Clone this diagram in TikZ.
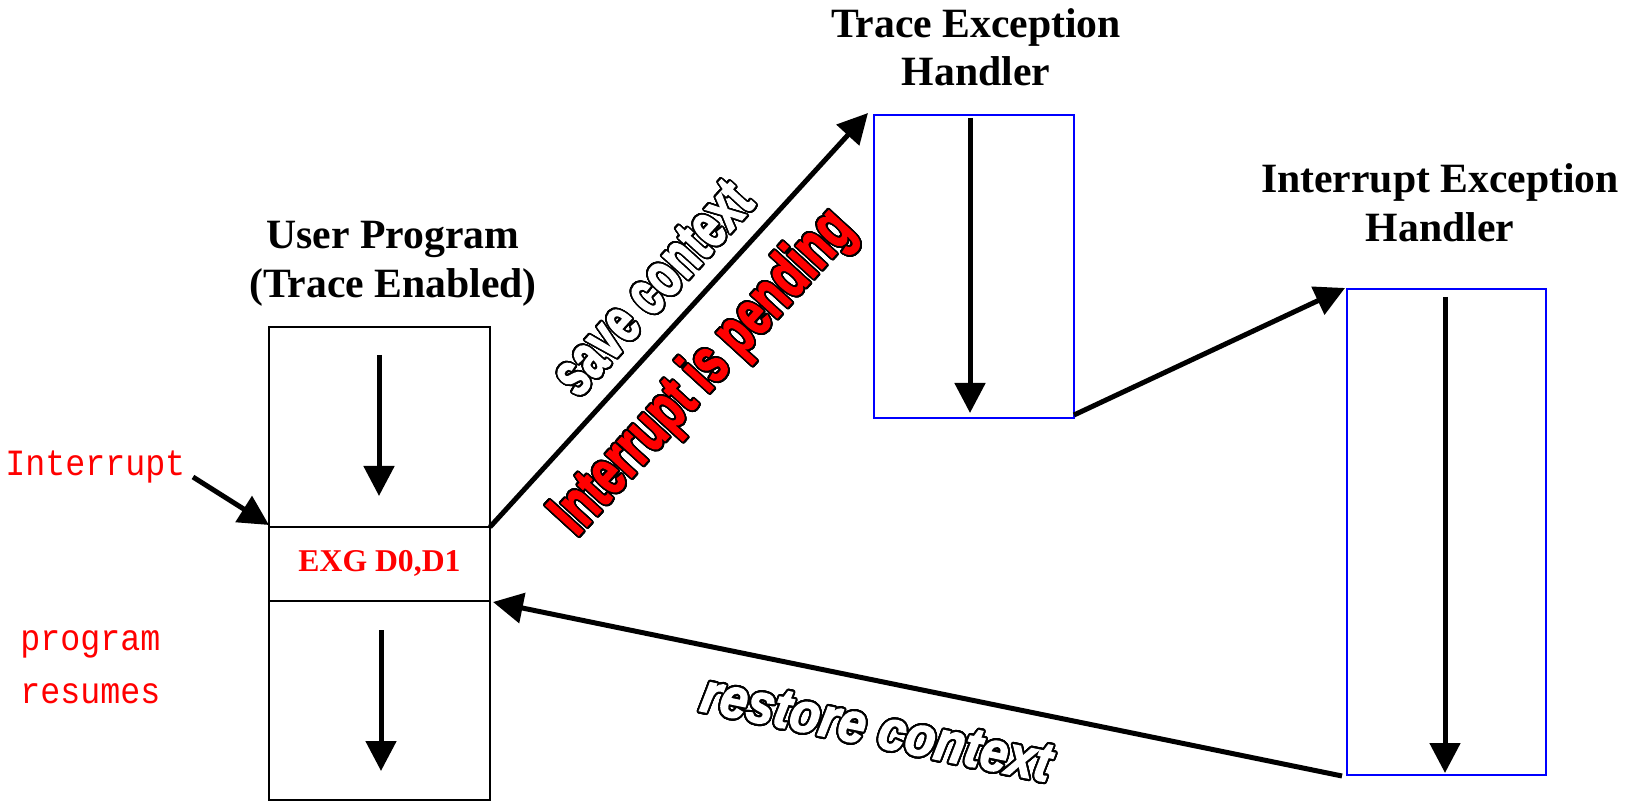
\documentclass[tikz,border=0pt]{standalone}
\usepackage{fontspec}
\setmainfont{Liberation Serif}
\newfontfamily\monofont{Liberation Mono}
\newfontfamily\heavyfont{Liberation Sans Bold}[FakeBold=2.5]
\newfontfamily\heavyitalfont{Liberation Sans Bold Italic}[FakeBold=2.5]
\usepackage[copies]{contour}
\contourlength{1.1pt}
\contournumber{32}
\usetikzlibrary{arrows.meta}

\tikzset{
  box/.style={draw=black, line width=1pt, inner sep=0pt, outer sep=0pt},
  handler/.style={draw=blue, line width=1pt, inner sep=0pt, outer sep=0pt},
  flow/.style={line width=2.5pt, -{Triangle[length=15pt,width=15pt]}},
  title/.style={font=\bfseries\fontsize{20.85}{24}\selectfont, inner sep=0pt, anchor=base},
  mono/.style={font=\monofont\fontsize{18.5}{22}\selectfont, text=red, inner sep=0pt, anchor=base west},
  outlined/.style={font=\heavyfont\fontsize{32}{34}\selectfont, inner sep=0pt, sloped},
  outlinedit/.style={font=\heavyitalfont\fontsize{28}{30}\selectfont, inner sep=0pt, sloped},
}

\begin{document}
\begin{tikzpicture}[x=0.5pt,y=-0.5pt]
\useasboundingbox (0,0) rectangle (1638,801);

% user program column: three stacked cells
\node[box, minimum width=110.5pt, minimum height=100pt] (up) at (379.5,427) {};
\node[box, minimum width=110.5pt, minimum height=37pt, text=red,
      font=\bfseries\fontsize{15.85}{18}\selectfont] (exg) at (379.5,564) {\raisebox{2.8pt}{EXG D0,D1}};
\node[box, minimum width=110.5pt, minimum height=99.25pt] (low) at (379.5,700.25) {};

% exception handlers
\node[handler, minimum width=100pt, minimum height=151.5pt] (trace) at (974,266.5) {};
\node[handler, minimum width=99.5pt, minimum height=243pt] (int) at (1446.5,532) {};

% titles
\node[title] (upt1) at (393,249) {User Program};
\node[title] (upt2) at (393,298) {(Trace Enabled)};
\node[title] (trt1) at (976,38) {Trace Exception};
\node[title] (trt2) at (976,86) {Handler};
\node[title] (int1) at (1440,193) {Interrupt Exception};
\node[title] (int2) at (1440,242) {Handler};

% side labels
\node[mono] (intlbl) at (5,476) {\scalebox{0.9}[1]{Interrupt}};
\node[mono] (prog1) at (20,650) {\scalebox{0.9}[1]{program}};
\node[mono] (prog2) at (20,703) {\scalebox{0.9}[1]{resumes}};

% flow inside each block
\coordinate (upA) at (379,355);   \coordinate (upB) at (379,496);
\coordinate (lowA) at (381,630);  \coordinate (lowB) at (381,771);
\coordinate (trA) at (970,118);   \coordinate (trB) at (970,413);
\coordinate (inA) at (1445,297);  \coordinate (inB) at (1445,773);
\draw[flow] (upA) -- (upB);
\draw[flow] (lowA) -- (lowB);
\draw[flow] (trA) -- (trB);
\draw[flow] (inA) -- (inB);

% interrupt request
\coordinate (intsrc) at (193,477);
\draw[flow] (intsrc) -- ([shift={(0,-2)}]exg.north west);

% save context / pending interrupt
\draw[flow] (exg.north east)
  -- node[outlined, pos=.51, above=8pt]
       {\scalebox{0.68}[1]{\color{white}\contour{black}{save context}}}
     node[outlined, pos=.46, below=11pt]
       {\scalebox{0.69}[1]{\color{red}\contour{black}{Interrupt is pending}}}
  ([shift={(-6,-2)}]trace.north west);

% trace handler hands over to interrupt handler
\draw[flow] ([shift={(0,-3)}]trace.south east) -- ([shift={(-2,-1)}]int.north west);

% restore context
\draw[flow] ([shift={(-5,1)}]int.south west)
  -- node[outlinedit, pos=.537, below=13pt]
       {\scalebox{0.88}[1]{\color{white}\contour{black}{restore context}}}
  ([shift={(3,1)}]exg.south east);
\end{tikzpicture}
\end{document}
